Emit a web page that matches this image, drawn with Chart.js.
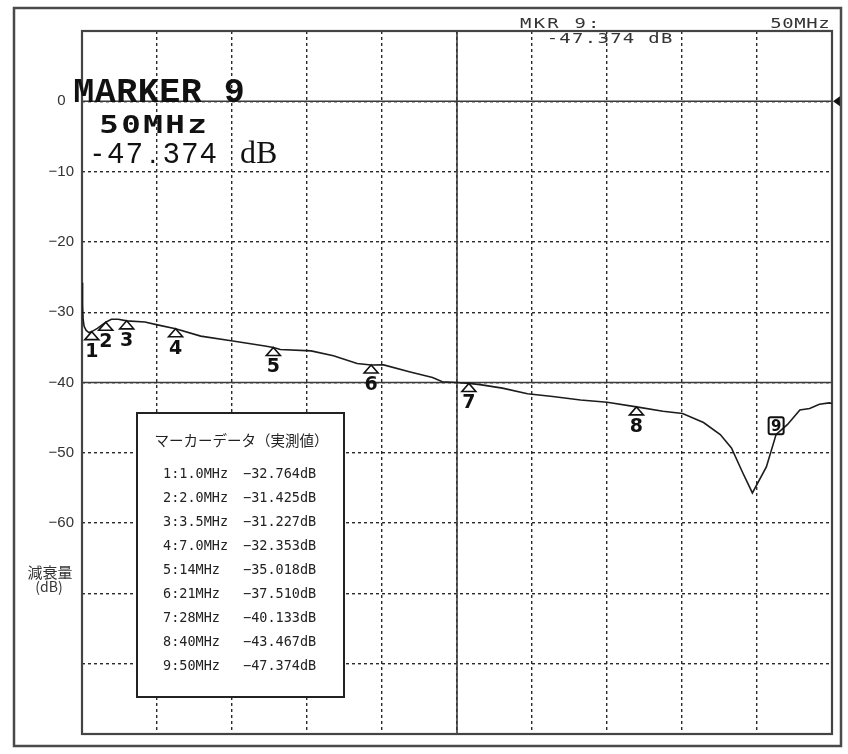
<!DOCTYPE html>
<html><head><meta charset="utf-8">
<script src="https://cdn.jsdelivr.net/npm/chart.js@4.4.0/dist/chart.umd.min.js"></script>
<style>html,body{margin:0;padding:0;background:#fff;}canvas{display:block;}</style>
</head><body>
<canvas id="c" width="848" height="754"></canvas>
<script>
// ---- data ----
const traceFreqMHz = [0.3, 0.34, 0.38, 0.45, 0.6, 0.8, 1.0, 1.4, 2.0, 2.4, 2.9, 3.5, 4.8, 5.7, 7.0, 8.8, 11.1, 13.4, 14.0, 14.5, 16.7, 18.3, 20.0, 21.0, 21.9, 23.8, 25.4, 26.1, 27.1, 28.0, 28.8, 30.4, 32.2, 34.0, 36.0, 37.9, 40.0, 41.9, 43.3, 44.8, 46.0, 46.8, 47.6, 48.3, 49.3, 50.0, 50.8, 51.7, 52.4, 53.1, 53.8, 54.0];
const traceDb = [-25.8, -29.0, -31.0, -32.0, -32.6, -32.9, -32.76, -32.3, -31.43, -31.0, -31.0, -31.23, -31.4, -31.8, -32.35, -33.4, -34.1, -34.8, -35.02, -35.3, -35.5, -36.2, -37.3, -37.51, -37.5, -38.5, -39.3, -39.9, -40.0, -40.13, -40.3, -40.8, -41.6, -42.0, -42.5, -42.8, -43.47, -44.1, -44.4, -45.7, -47.4, -49.3, -52.8, -55.7, -52.0, -47.374, -46.0, -43.9, -43.7, -43.1, -42.9, -43.0];
const markerIds = [1, 2, 3, 4, 5, 6, 7, 8, 9];
const markerFreqMHz = [1.0, 2.0, 3.5, 7.0, 14, 21, 28, 40, 50];
const markerFreqLabels = ['1.0MHz', '2.0MHz', '3.5MHz', '7.0MHz', '14MHz', '21MHz', '28MHz', '40MHz', '50MHz'];
const markerDb = [-32.764, -31.425, -31.227, -32.353, -35.018, -37.510, -40.133, -43.467, -47.374];
const markerDbLabels = ['−32.764dB', '−31.425dB', '−31.227dB', '−32.353dB', '−35.018dB', '−37.510dB', '−40.133dB', '−43.467dB', '−47.374dB'];
const activeMarker = 9;
const yTickValues = [0, -10, -20, -30, -40, -50, -60];
const yTickLabels = ['0\u2007', '−10', '−20', '−30', '−40', '−50', '−60'];
const solidDbLines = [0, -40];
const yTitleLines = ['減衰量', '(dB)'];
const legendTitle = 'マーカーデータ（実測値）';
const freqMin = 0.3, freqMax = 54;
const dbMin = -90, dbMax = 10;
const xDivisions = 10;

// ---- helpers ----
function drawCells(c, text, x0, y, cell, font, sx) {
  c.save();
  c.font = font; c.textAlign = 'center'; c.textBaseline = 'alphabetic';
  for (let i = 0; i < text.length; i++) {
    const ch = text[i];
    if (ch === ' ') continue;
    c.save();
    c.translate(x0 + (i + 0.5) * cell, y);
    c.scale(sx || 1, 1);
    c.fillText(ch, 0, 0);
    c.restore();
  }
  c.restore();
}
function seg(c, x1, y1, x2, y2) { c.beginPath(); c.moveTo(x1, y1); c.lineTo(x2, y2); c.stroke(); }

const overlay = {
  id: 'overlay',
  beforeDraw(chart) {
    const c = chart.ctx; c.save(); c.fillStyle = '#fff'; c.fillRect(0, 0, chart.width, chart.height); c.restore();
  },
  beforeDatasetsDraw(chart) {
    const { ctx: c, chartArea: a, scales: { x, y } } = chart;
    c.save();
    c.setLineDash([]);
    c.strokeStyle = '#3a3a3a'; c.lineWidth = 1.6;
    const xc = x.getPixelForValue(freqMin + (freqMax - freqMin) / 2);
    seg(c, xc, a.top, xc, a.bottom);
    solidDbLines.forEach(v => { const yy = y.getPixelForValue(v); seg(c, a.left, yy, a.right, yy); });
    c.strokeStyle = '#444'; c.lineWidth = 2.2;
    c.strokeRect(a.left, a.top, a.right - a.left, a.bottom - a.top);
    c.restore();
  },
  afterDatasetsDraw(chart) {
    const { ctx: c, chartArea: a, scales: { x, y } } = chart;
    c.save();
    c.setLineDash([]);
    // markers
    c.fillStyle = '#111'; c.strokeStyle = '#111';
    markerIds.forEach((id, i) => {
      const px = x.getPixelForValue(markerFreqMHz[i]);
      const py = y.getPixelForValue(markerDb[i]);
      if (id === activeMarker) {
        c.lineWidth = 2;
        c.beginPath();
        if (c.roundRect) c.roundRect(px - 7.5, py - 17, 15, 17, 2); else c.rect(px - 7.5, py - 17, 15, 17);
        c.stroke();
        c.font = 'bold 15px "DejaVu Sans"'; c.textAlign = 'center'; c.textBaseline = 'alphabetic';
        c.fillText(String(id), px, py - 3);
      } else {
        c.lineWidth = 1.6;
        c.beginPath(); c.moveTo(px, py); c.lineTo(px - 7, py + 8); c.lineTo(px + 7, py + 8); c.closePath(); c.stroke();
        c.font = 'bold 19px "DejaVu Sans"'; c.textAlign = 'center'; c.textBaseline = 'alphabetic';
        c.fillText(String(id), px, py + 25);
      }
    });
    // reference level arrow at right edge
    const y0 = y.getPixelForValue(0);
    c.fillStyle = '#111';
    c.beginPath(); c.moveTo(a.right + 1, y0); c.lineTo(a.right + 8, y0 - 5); c.lineTo(a.right + 8, y0 + 5); c.closePath(); c.fill();

    // legend box
    c.fillStyle = '#fff'; c.fillRect(137, 413, 207, 284);
    c.strokeStyle = '#222'; c.lineWidth = 2; c.strokeRect(137, 413, 207, 284);
    c.fillStyle = '#222';
    c.font = '14.5px "Noto Sans CJK JP"'; c.textAlign = 'center'; c.textBaseline = 'alphabetic';
    c.fillText(legendTitle, 241.5, 446);
    c.font = '13.5px "DejaVu Sans Mono"'; c.textAlign = 'left';
    markerIds.forEach((id, i) => {
      const by = 478 + i * 24;
      c.fillText(id + ':' + markerFreqLabels[i], 163, by);
      c.fillText(markerDbLabels[i], 243, by);
    });

    // active marker readouts
    const k = markerIds.indexOf(activeMarker);
    c.fillStyle = '#111';
    drawCells(c, 'MARKER ' + activeMarker, 73, 102, 21.5, 'bold 35px "Liberation Mono"', 1);
    drawCells(c, markerFreqLabels[k], 98, 133, 22, 'bold 25px "DejaVu Sans Mono"', 1.3);
    const valTxt = markerDb[k].toFixed(3);
    drawCells(c, valTxt, 88, 163, 18.5, '29px "Liberation Sans"', 1);
    c.font = '32px "Liberation Serif"'; c.textAlign = 'left'; c.textBaseline = 'alphabetic';
    c.fillText('dB', 240, 163);

    c.fillStyle = '#333';
    drawCells(c, 'MKR ' + activeMarker + ':', 519, 28, 13.6, '14px "DejaVu Sans Mono"', 1.35);
    drawCells(c, valTxt + ' dB', 546, 43, 12.7, '14px "DejaVu Sans Mono"', 1.35);
    drawCells(c, markerFreqLabels[k], 770, 28, 12, '14px "DejaVu Sans Mono"', 1.35);

    // y title
    c.fillStyle = '#333'; c.textAlign = 'center';
    c.font = '15px "Noto Sans CJK JP"'; c.fillText(yTitleLines[0], 50, 578);
    c.font = '14px "Noto Sans CJK JP"'; c.fillText(yTitleLines[1], 49, 592);

    // outer frame
    c.strokeStyle = '#4a4a4a'; c.lineWidth = 2.5;
    c.strokeRect(14, 8, 827, 738);
    c.restore();
  }
};

new Chart(document.getElementById('c'), {
  type: 'scatter',
  data: {
    datasets: [{
      data: traceFreqMHz.map((f, i) => ({ x: f, y: traceDb[i] })),
      showLine: true, borderColor: '#1c1c1c', borderWidth: 1.6, pointRadius: 0, tension: 0
    }]
  },
  options: {
    responsive: false, animation: false, devicePixelRatio: 1,
    layout: { padding: { left: 0, top: 31, right: 16, bottom: 20 } },
    plugins: { legend: { display: false }, tooltip: { enabled: false } },
    scales: {
      x: {
        type: 'linear', min: freqMin, max: freqMax,
        afterBuildTicks(s) {
          s.ticks = Array.from({ length: xDivisions + 1 }, (_, i) => ({ value: freqMin + i * (freqMax - freqMin) / xDivisions }));
        },
        ticks: { display: false },
        grid: { color: '#2a2a2a', lineWidth: 1.4, drawTicks: false },
        border: { display: false, dash: [3, 3] },
        afterFit(s) { s.height = 0; }
      },
      y: {
        min: dbMin, max: dbMax,
        ticks: {
          stepSize: 10,
          callback(v) { const j = yTickValues.indexOf(v); return j >= 0 ? yTickLabels[j] : ''; },
          color: '#333', font: { family: 'Liberation Sans', size: 15 }, padding: 8
        },
        grid: { color: '#2a2a2a', lineWidth: 1.4, drawTicks: false },
        border: { display: false, dash: [3, 3] },
        afterFit(s) { s.width = 82; }
      }
    }
  },
  plugins: [overlay]
});
</script>
</body></html>
